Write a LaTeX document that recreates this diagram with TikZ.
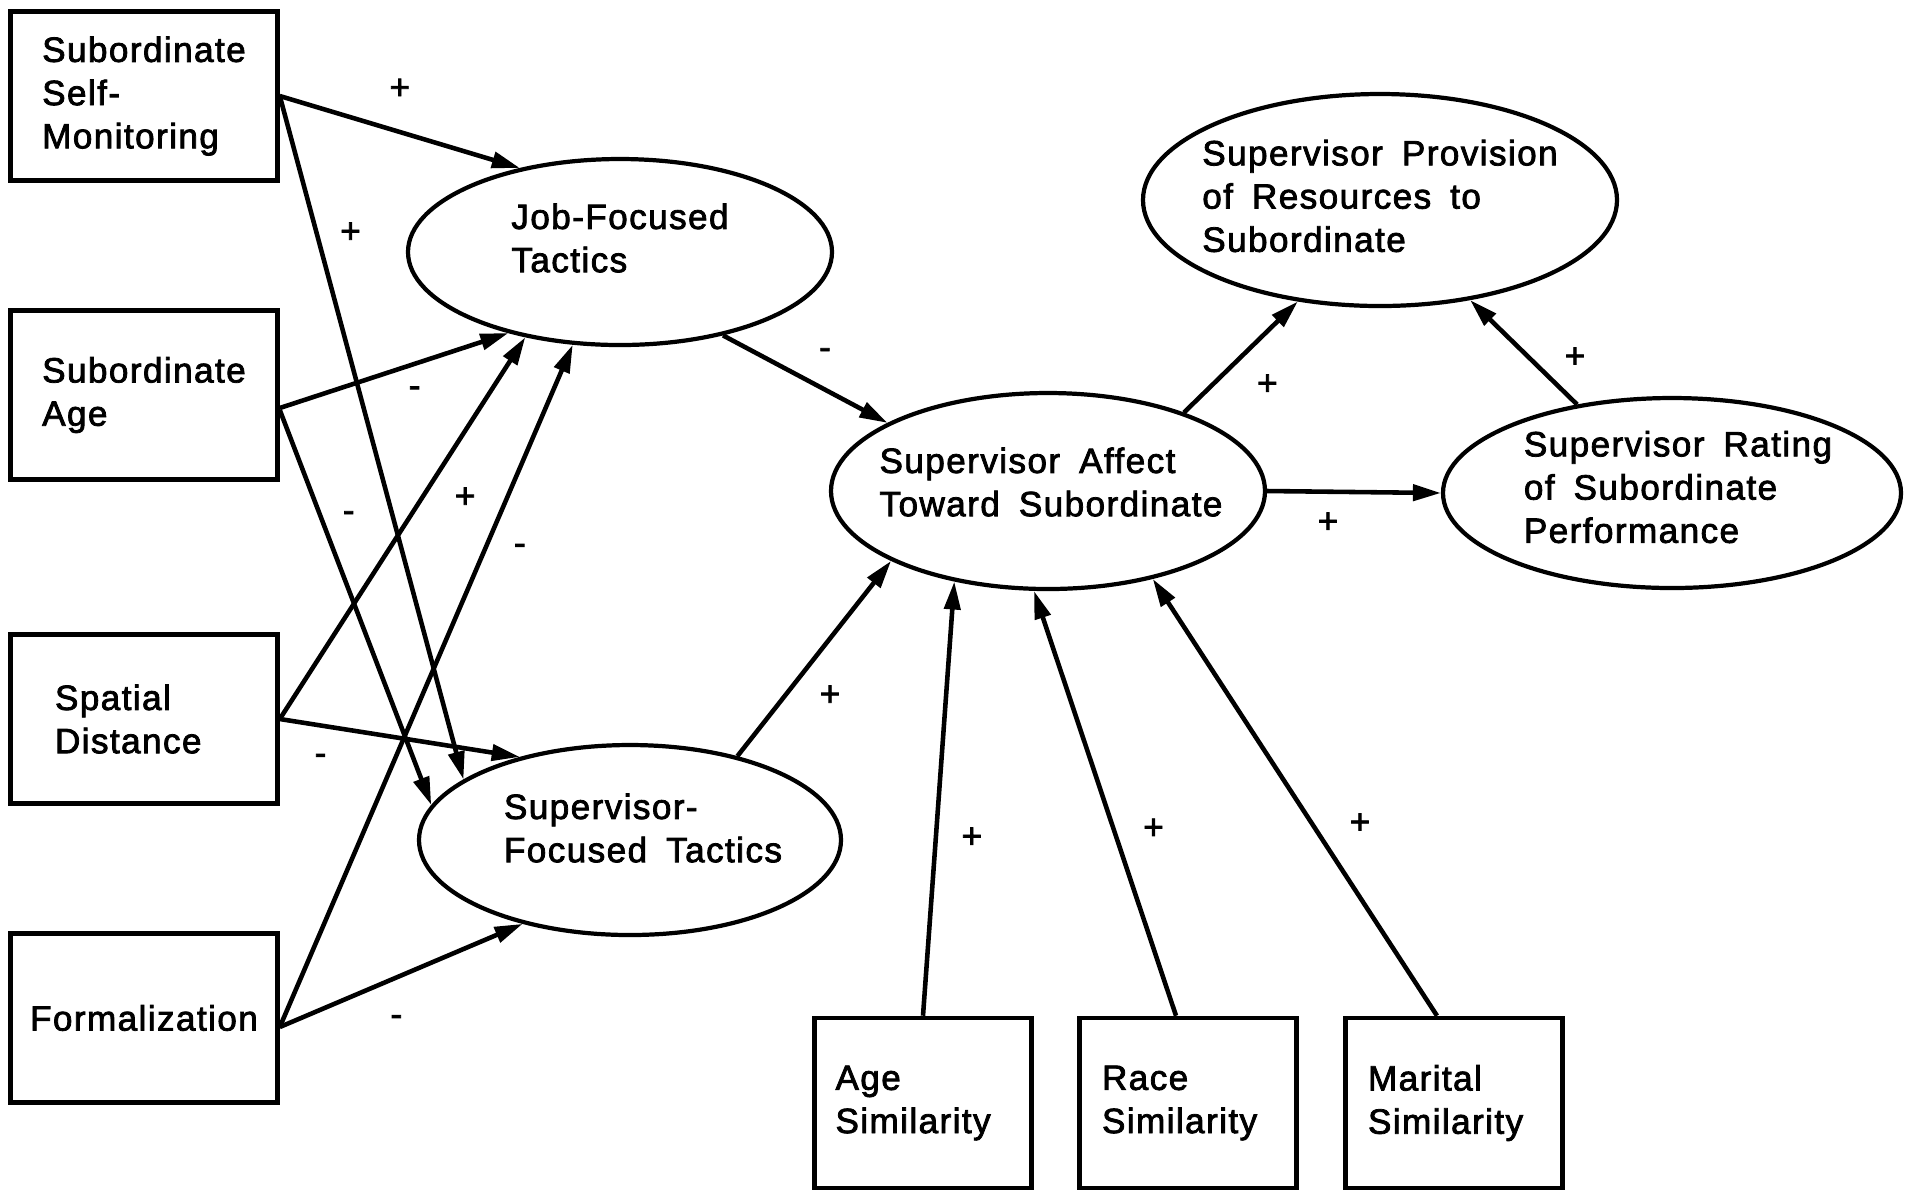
\documentclass[tikz,border=0pt]{standalone}
\usepackage{fontspec}
\setmainfont{Liberation Sans}[LetterSpace=4,WordSpace=1.7,FakeBold=2.2]
\usetikzlibrary{arrows.meta, shapes.geometric}

\begin{document}
\begin{tikzpicture}[x=0.1mm, y=-0.1mm,
  box/.style={draw, line width=1.3pt, minimum width=26.7mm, minimum height=16.9mm,
              align=left, font=\fontsize{10}{12.3}\selectfont},
  simbox/.style={box, minimum width=21.7mm, minimum height=17mm},
  latent/.style={draw, ellipse, line width=1.2pt, inner sep=0pt},
  txt/.style={align=left, font=\fontsize{10}{12.3}\selectfont},
  link/.style={-{Triangle[length=2.8mm,width=1.6mm]}, line width=1.3pt},
  sgn/.style={font=\fontsize{10}{12}\selectfont, inner sep=0pt}
]
\useasboundingbox (0,0) rectangle (1918,1190);

% exogenous variables
\node[box] (ssm) at (144,96) {Subordinate\\Self-\\Monitoring};
\node[box] (sage)  at (144,395)  {Subordinate\\Age};
\node[box, text width=17.8mm] (sdist) at (144,719) {Spatial\\Distance};
\node[box] (form)  at (144,1018) {Formalization};

\node[simbox, text width=17.5mm] (agesim)  at (923,1103)  {Age\\Similarity};
\node[simbox, text width=17.2mm] (racesim) at (1188,1103) {Race\\Similarity};
\node[simbox, text width=17.2mm] (marsim)  at (1454,1103) {Marital\\Similarity};

% tactics and outcomes
\node[latent, minimum width=42.4mm, minimum height=18.6mm,
      label={[txt, yshift=1.4mm]center:Job-Focused\\Tactics}] (jf) at (620,252) {};
\node[latent, minimum width=42.2mm, minimum height=19mm,
      label={[txt, yshift=1.2mm, xshift=1.3mm]center:Supervisor-\\Focused Tactics}] (sf) at (630,840) {};
\node[latent, minimum width=43.4mm, minimum height=19.6mm,
      label={[txt, yshift=0.9mm, xshift=0.3mm]center:Supervisor Affect\\Toward Subordinate}] (aff) at (1048,491) {};
\node[latent, minimum width=47.4mm, minimum height=21.2mm,
      label={[txt, yshift=0.4mm]center:Supervisor Provision\\of Resources to\\Subordinate}] (prov) at (1380,200) {};
\node[latent, minimum width=45.8mm, minimum height=19mm,
      label={[txt, yshift=0.6mm, xshift=0.6mm]center:Supervisor Rating\\of Subordinate\\Performance}] (rate) at (1672,493) {};

% paths into the tactics
\draw[link] (ssm.east) -- (jf.140) node[sgn, pos=.5, yshift=4.3mm] {+};
\draw[link] (ssm.east) -- (sf.160) node[sgn, pos=.2, xshift=3.4mm] {+};
\draw[link] ([yshift=-1.3mm]sage.east) -- (jf.216) node[sgn, pos=.59, yshift=-2.8mm] {-};
\draw[link] ([yshift=-1.5mm]sage.east) -- (sf.170) node[sgn, pos=.27, xshift=2.8mm] {-};
\draw[link] (sdist.east) -- (jf.222) node[sgn, pos=.58, xshift=4.3mm] {+};
\draw[link] (sdist.east) -- (sf.143) node[sgn, pos=.17, yshift=-3.4mm] {-};
\draw[link] ([yshift=-0.9mm]form.east) -- (jf.243) node[sgn, pos=.7, xshift=3.5mm] {-};
\draw[link] ([yshift=-0.9mm]form.east) -- (sf.218) node[sgn, pos=.48, yshift=-4.3mm] {-};

% paths into affect
\draw[link] (jf.321) -- (aff.157) node[sgn, pos=.62, yshift=3.6mm] {-};
\draw[link] (sf.38) -- (aff.204) node[sgn, pos=.31, xshift=4.5mm] {+};
\draw[link] (agesim.north) -- (aff.224) node[sgn, pos=.41, xshift=3.6mm] {+};
\draw[link] ([xshift=-1.2mm]racesim.north) -- (aff.262) node[sgn, pos=.44, xshift=4mm] {+};
\draw[link] ([xshift=-1.7mm]marsim.north) -- (aff.320) node[sgn, pos=.44, xshift=4.8mm] {+};

% outcomes
\draw[link] (aff.30) -- (prov.231) node[sgn, pos=.25, xshift=5.5mm] {+};
\draw[link] (rate.137) -- (prov.312) node[sgn, pos=.45, xshift=4.6mm] {+};
\draw[link] (aff.east) -- (rate.west) node[sgn, pos=.35, yshift=-3.1mm] {+};
\end{tikzpicture}
\end{document}
